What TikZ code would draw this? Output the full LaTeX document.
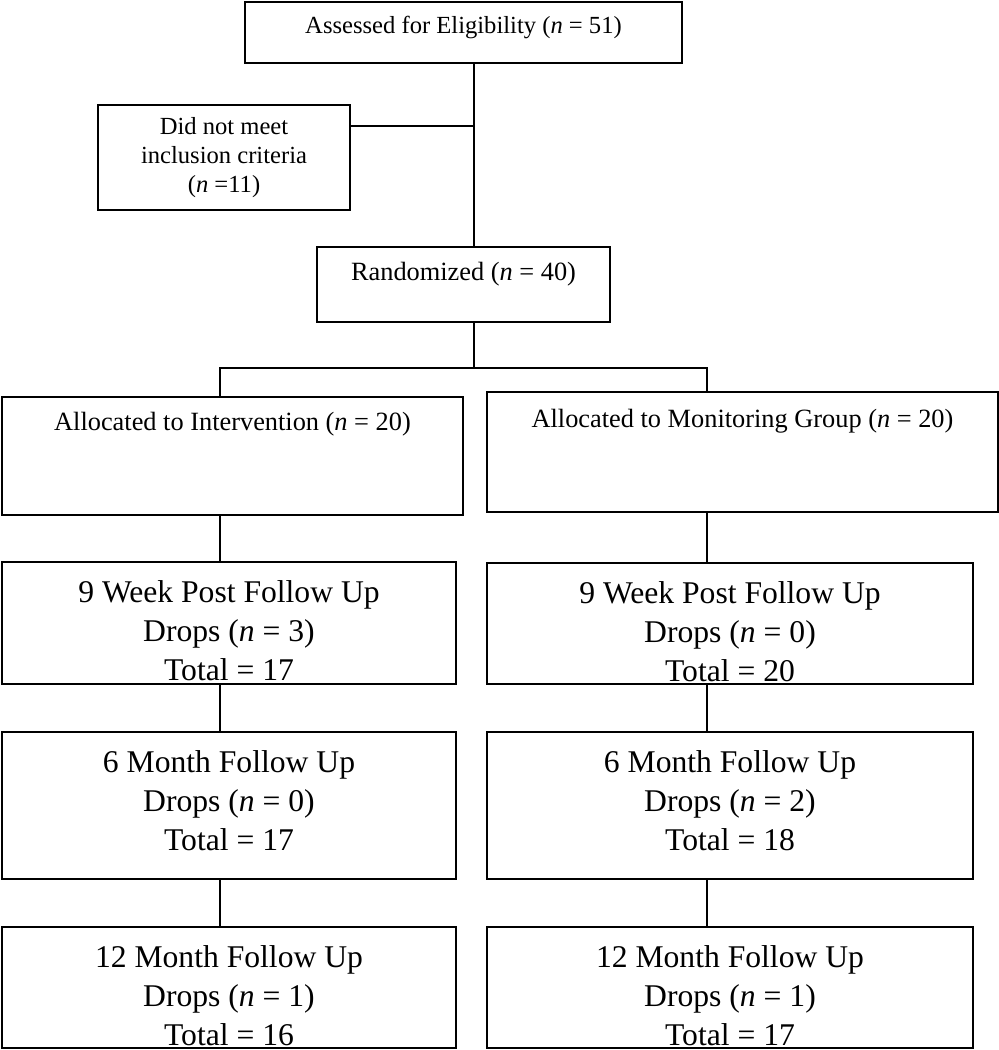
\documentclass[tikz,border=0pt]{standalone}
\usepackage{fontspec}
\setmainfont{Liberation Serif}
\usetikzlibrary{positioning}

\tikzset{
	box/.style={draw, line width=1.6pt, inner sep=0pt},
	link/.style={line width=1.2pt},
	smalltxt/.style={inner sep=0pt, align=center, font=\fontsize{14}{16.5}\selectfont},
	midtxt/.style={inner sep=0pt, align=center, font=\fontsize{15}{18}\selectfont},
	bigtxt/.style={inner sep=0pt, align=center, font=\fontsize{18}{22.2}\selectfont}
}

\begin{document}
\begin{tikzpicture}[x=0.02cm, y=-0.02cm]
		%%%%% START %%%%%
		\useasboundingbox (0, 0) rectangle (999, 1050);
		
		\node[box, minimum width=8.74cm, minimum height=1.22cm] (elig) at (463.5, 32.5) {};
		\node[smalltxt, below=0.3cm of elig.north] (eligtxt) {Assessed for Eligibility (\textit{n} = 51)};
		
		\node[box, smalltxt, minimum width=5.04cm, minimum height=2.1cm] (excl) at (224, 157.5) {Did not meet\\inclusion criteria\\(\textit{n} =11)};
		
		\node[box, minimum width=5.86cm, minimum height=1.5cm] (rand) at (463.5, 284.5) {};
		\node[midtxt, below=0.32cm of rand.north] (randtxt) {Randomized (\textit{n} = 40)};
		
		\coordinate (trunk) at (474, 126);
		\coordinate (colL) at (220, 368);
		\coordinate (colR) at (707, 368);
		
		\draw[link] (elig.south -| trunk) -- (rand.north -| trunk);
		\draw[link] (excl.east |- trunk) -- (trunk);
		\draw[link] (rand.south -| trunk) -- (trunk |- colL);
		
		% allocation
		\node[box, minimum width=9.22cm, minimum height=2.36cm] (allocL) at (232.5, 456) {};
		\node[midtxt, below=0.32cm of allocL.north] (allocLtxt) {Allocated to Intervention (\textit{n} = 20)};
		\node[box, minimum width=10.22cm, minimum height=2.4cm] (allocR) at (742.5, 452) {};
		\node[midtxt, below=0.36cm of allocR.north] (allocRtxt) {Allocated to Monitoring Group (\textit{n} = 20)};
		
		\draw[link] (colL |- allocL.north) -- (colL) -- (colR) -- (colR |- allocR.north);
		
		% follow up
		\node[box, minimum width=9.08cm, minimum height=2.44cm] (wk9L) at (229, 623) {};
		\node[bigtxt, below=0.4cm of wk9L.north] (wk9Ltxt) {9 Week Post Follow Up\\Drops (\textit{n} = 3)\\Total = 17};
		\node[box, minimum width=9.72cm, minimum height=2.42cm] (wk9R) at (730, 623.5) {};
		\node[bigtxt, below=0.4cm of wk9R.north] (wk9Rtxt) {9 Week Post Follow Up\\Drops (\textit{n} = 0)\\Total = 20};
		
		\node[box, minimum width=9.08cm, minimum height=2.94cm] (m6L) at (229, 805.5) {};
		\node[bigtxt, below=0.4cm of m6L.north] (m6Ltxt) {6 Month Follow Up\\Drops (\textit{n} = 0)\\Total = 17};
		\node[box, minimum width=9.72cm, minimum height=2.94cm] (m6R) at (730, 805.5) {};
		\node[bigtxt, below=0.4cm of m6R.north] (m6Rtxt) {6 Month Follow Up\\Drops (\textit{n} = 2)\\Total = 18};
		
		\node[box, minimum width=9.08cm, minimum height=2.42cm] (m12L) at (229, 987.5) {};
		\node[bigtxt, below=0.4cm of m12L.north] (m12Ltxt) {12 Month Follow Up\\Drops (\textit{n} = 1)\\Total = 16};
		\node[box, minimum width=9.72cm, minimum height=2.42cm] (m12R) at (730, 987.5) {};
		\node[bigtxt, below=0.4cm of m12R.north] (m12Rtxt) {12 Month Follow Up\\Drops (\textit{n} = 1)\\Total = 17};
		
		\draw[link] (allocL.south -| colL) -- (wk9L.north -| colL);
		\draw[link] (wk9L.south -| colL) -- (m6L.north -| colL);
		\draw[link] (m6L.south -| colL) -- (m12L.north -| colL);
		
		\draw[link] (allocR.south -| colR) -- (wk9R.north -| colR);
		\draw[link] (wk9R.south -| colR) -- (m6R.north -| colR);
		\draw[link] (m6R.south -| colR) -- (m12R.north -| colR);
		
		%%%%% END %%%%%
	\end{tikzpicture}
\end{document}
